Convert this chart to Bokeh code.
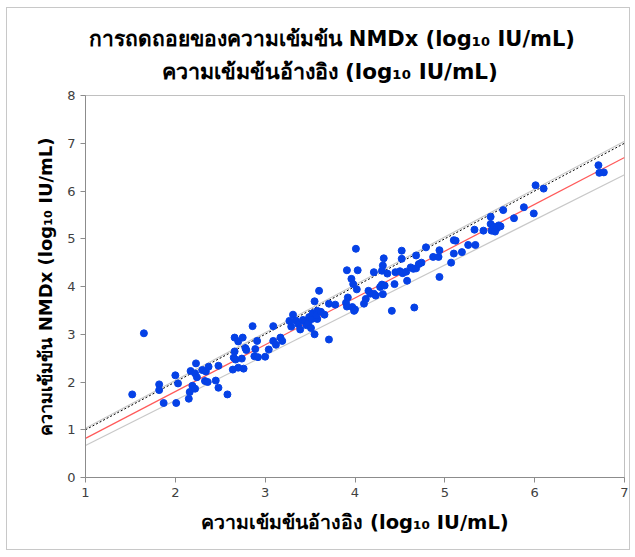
from bokeh.plotting import figure
from bokeh.models import Title, FixedTicker
from bokeh.embed import file_html
from bokeh.resources import INLINE

# Reference concentration (log10 IU/mL)
ref_x = [
    1.52, 1.65, 1.82, 1.82, 1.87, 2.00, 2.01, 2.03, 2.15, 2.17, 2.16, 2.19, 2.22, 2.23, 2.22,
    2.24, 2.30, 2.34, 2.37, 2.33, 2.36, 2.45, 2.48, 2.48, 2.58, 2.64, 2.66, 2.66, 2.65, 2.67,
    2.70, 2.70, 2.74, 2.75, 2.76, 2.78, 2.79, 2.86, 2.88, 2.89, 2.91, 2.92, 3.00, 3.04, 3.09,
    3.09, 3.12, 3.17, 3.19, 3.27, 3.29, 3.31, 3.34, 3.37, 3.39, 3.42, 3.44, 3.46, 3.48, 3.49,
    3.51, 3.52, 3.53, 3.55, 3.55, 3.58, 3.58, 3.60, 3.57, 3.66, 3.71, 3.71, 3.78, 3.62,
    3.90, 3.91, 3.92, 3.97, 4.00, 3.99, 4.02, 3.96, 3.98, 3.91, 4.03, 4.01, 4.10, 4.12, 4.15,
    4.17, 4.21, 4.23, 4.31, 4.28, 4.30, 4.33, 4.21, 4.30, 4.36, 4.44, 4.41, 4.45, 4.50, 4.53,
    4.57, 4.58, 4.31, 4.32, 4.52, 4.52, 4.62, 4.65, 4.68, 4.66, 4.68, 4.71, 4.79, 4.74, 4.87,
    4.93, 4.94, 4.94, 5.07, 5.10, 5.10, 5.12, 5.19, 5.26, 5.34, 5.33, 5.43, 5.51, 5.51, 5.52,
    5.55, 5.58, 5.60, 5.62, 5.56, 5.65, 5.77, 5.88, 5.99, 6.01, 6.10, 6.71, 6.72, 6.77,
]
# NMDx concentration (log10 IU/mL)
nmdx_y = [
    1.74, 3.02, 1.95, 1.83, 1.56, 2.14, 1.56, 1.97, 1.65, 2.23, 1.79, 1.92, 1.86, 2.39, 2.18,
    2.10, 2.25, 2.22, 2.32, 2.02, 2.00, 2.03, 2.34, 1.88, 1.74, 2.26, 2.93, 2.64, 2.51, 2.47,
    2.30, 2.85, 2.49, 2.93, 2.28, 2.71, 2.67, 3.17, 2.54, 2.69, 2.86, 2.52, 2.53, 2.68, 2.86,
    3.17, 2.78, 2.93, 2.86, 3.28, 3.16, 3.41, 3.29, 3.21, 3.10, 3.30, 3.27, 3.19, 3.23, 3.36,
    3.13, 3.32, 3.44, 3.69, 3.00, 3.49, 3.32, 3.91, 3.40, 3.41, 2.89, 3.64, 3.62, 3.47,
    3.66, 3.58, 3.77, 3.57, 3.52, 3.49, 3.94, 4.16, 4.05, 4.34, 4.34, 4.79, 3.64, 3.74, 3.91,
    3.85, 3.85, 3.81, 3.84, 3.99, 4.04, 4.02, 4.30, 4.33, 4.27, 4.05, 3.49, 4.30, 4.32, 4.28,
    4.31, 4.12, 4.44, 4.59, 4.58, 4.75, 4.40, 4.37, 4.38, 3.56, 4.65, 4.47, 4.82, 4.50, 4.62,
    4.62, 4.76, 4.20, 4.50, 4.69, 4.97, 4.96, 4.72, 4.87, 4.87, 5.19, 5.17, 5.46, 5.31, 5.17,
    5.25, 5.22, 5.28, 5.26, 5.15, 5.60, 5.43, 5.66, 5.53, 6.12, 6.05, 6.54, 6.38, 6.39,
]

# Line endpoints (x from 1 to 7)
line_x = [1, 7]
identity_y = [1.0, 7.0]
fit_y = [0.82, 6.70]
upper_y = [1.03, 7.04]
lower_y = [0.67, 6.34]

x_ticks = [1, 2, 3, 4, 5, 6, 7]
y_ticks = [0, 1, 2, 3, 4, 5, 6, 7, 8]

title_line1 = "การถดถอยของความเข้มข้น NMDx (log₁₀ IU/mL)"
title_line2 = "ความเข้มข้นอ้างอิง (log₁₀ IU/mL)"
x_label = "ความเข้มข้นอ้างอิง (log₁₀ IU/mL)"
y_label = "ความเข้มข้น NMDx (log₁₀ IU/mL)"

FONT = "DejaVu Sans"

p = figure(
    width=624, height=543, title=None,
    x_range=(1, 7), y_range=(0, 8),
    output_backend="svg", toolbar_location=None,
    min_border_left=78, min_border_right=7, min_border_top=87, min_border_bottom=74,
    margin=(7, 0, 0, 6),
    styles={"border": "1px solid #c8c8c8"},
)

# first added sits closest to the frame
p.add_layout(Title(text=title_line2, align="left", text_font=FONT, text_font_size="21.5px",
                   text_font_style="bold", text_color="black", offset=76, standoff=24), "above")
p.add_layout(Title(text=title_line1, align="left", text_font=FONT, text_font_size="21px",
                   text_font_style="bold", text_color="black", offset=3, standoff=-12), "above")

p.grid.visible = False
p.outline_line_color = "#c0c0c0"
p.outline_line_width = 1

for ax, ticks in ((p.xaxis, x_ticks), (p.yaxis, y_ticks)):
    ax.ticker = FixedTicker(ticks=ticks)
    ax.axis_line_color = "#8c8c8c"
    ax.major_tick_line_color = "#8c8c8c"
    ax.major_tick_out = 5
    ax.major_tick_in = 0
    ax.minor_tick_line_color = None
    ax.major_label_text_font = FONT
    ax.major_label_text_font_size = "13px"
    ax.major_label_text_color = "#404040"
    ax.axis_label_text_font = FONT
    ax.axis_label_text_font_style = "bold"
    ax.axis_label_text_color = "black"

p.xaxis.axis_label = x_label
p.yaxis.axis_label = y_label
p.xaxis.axis_label_text_font_size = "19.5px"
p.yaxis.axis_label_text_font_size = "18px"
p.xaxis.axis_label_standoff = 11
p.yaxis.axis_label_standoff = 8

p.line(line_x, upper_y, line_color="#c8c8c8", line_width=1.2)
p.line(line_x, lower_y, line_color="#c8c8c8", line_width=1.2)
p.line(line_x, identity_y, line_color="black", line_width=1, line_dash="2 2")
p.line(line_x, fit_y, line_color="#ff5a5a", line_width=1.2)

p.scatter(ref_x, nmdx_y, size=7, fill_color="#0541e6", line_color="#0541e6")

open("out.html", "w").write(file_html(p, INLINE))
